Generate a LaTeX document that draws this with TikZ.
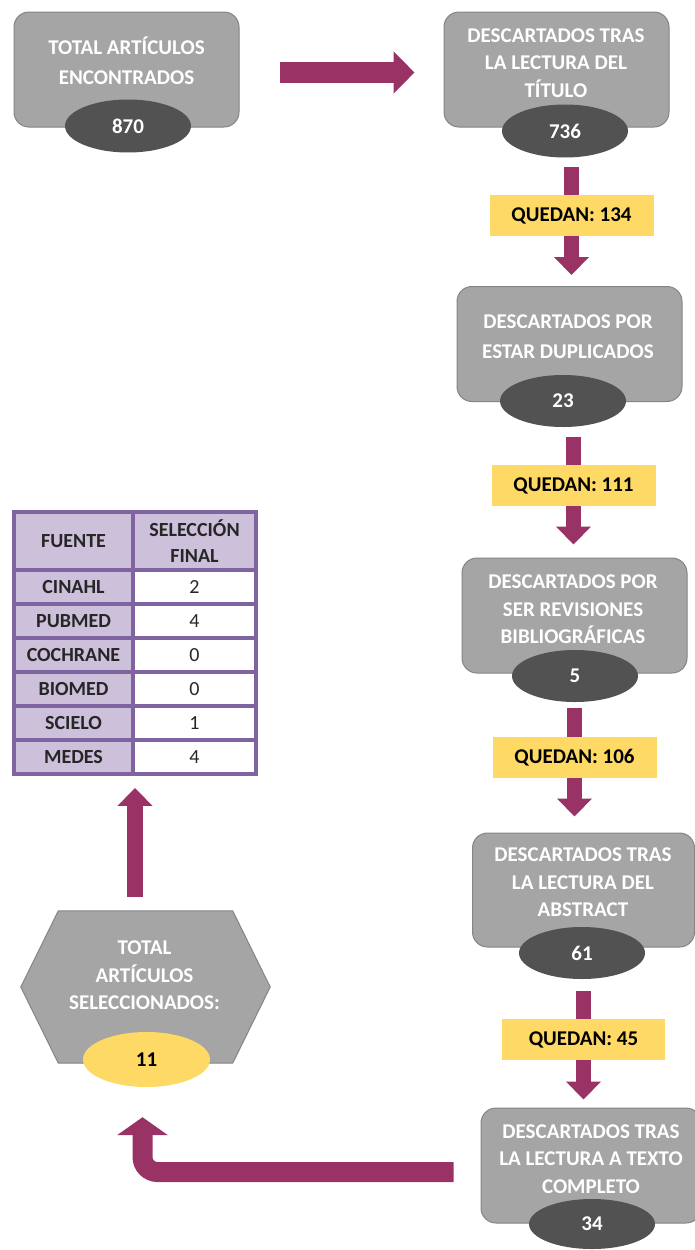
\documentclass[tikz,border=0pt]{standalone}
\usepackage{fontspec}
\setmainfont{Carlito}
\usetikzlibrary{arrows.meta,shapes.geometric,fit,backgrounds}
\definecolor{boxgray}{HTML}{A5A5A5}
\definecolor{boxline}{HTML}{858585}
\definecolor{ellgray}{HTML}{525252}
\definecolor{plum}{HTML}{993366}
\definecolor{gold}{HTML}{FFD966}
\definecolor{tpurple}{HTML}{8064A2}
\definecolor{tlilac}{HTML}{CCC0DA}
\definecolor{ttext}{HTML}{262626}
\begin{document}
\begin{tikzpicture}[x=1pt,y=-1pt,
  box/.style={draw=boxline, line width=1pt, fill=boxgray, rounded corners=15pt,
    minimum width=225pt, minimum height=115pt, inner sep=0pt},
  boxtext/.style={text=white, font=\fontsize{21}{27.5}\selectfont\bfseries, align=center, inner sep=0pt},
  boxtexttwo/.style={boxtext, font=\fontsize{21}{30}\selectfont\bfseries},
  countell/.style={ellipse, fill=ellgray, minimum width=126pt, minimum height=53pt, inner sep=0pt,
    text=white, font=\fontsize{21}{24}\selectfont\bfseries},
  remain/.style={rectangle, fill=gold, minimum width=164pt, minimum height=41pt, inner sep=0pt,
    text=black, font=\fontsize{21}{24}\selectfont\bfseries},
  varrow/.style={draw=plum, line width=15pt, line cap=butt, -{Triangle[width=34pt,length=18pt]}},
  harrow/.style={draw=plum, line width=21pt, line cap=butt, -{Triangle[width=41pt,length=21pt]}},
  uarrow/.style={draw=plum, line width=16pt, line cap=butt, -{Triangle[width=34pt,length=18pt]}},
  barrow/.style={draw=plum, line width=20pt, line cap=butt, rounded corners=15pt, -{Triangle[width=50pt,length=18pt]}},
  cell/.style={rectangle, draw=tpurple, line width=3.5pt, inner sep=0pt, text=ttext,
    font=\fontsize{20}{25}\selectfont\bfseries, align=center},
  srccell/.style={cell, fill=tlilac, minimum width=119pt, minimum height=34pt},
  numcell/.style={cell, fill=white, minimum width=123pt, minimum height=34pt, font=\fontsize{20}{25}\selectfont},
  hexfill/.style={draw=boxline, line width=1pt, fill=boxgray}
]
\useasboundingbox (0,0) rectangle (695,1250);

% boxes
\node[box] (bA) at (126.5,69.5) {};
\node[boxtexttwo] (tA) at (126.5,61) {TOTAL ARTÍCULOS\\ENCONTRADOS};
\node[countell] (e870) at (128,126) {870};

\node[box] (bB) at (556.5,69.5) {};
\node[boxtext] (tB) at (556,63) {DESCARTADOS TRAS\\LA LECTURA DEL\\TÍTULO};
\node[countell] (e736) at (565,131) {736};

\node[box] (bC) at (569.5,344) {};
\node[boxtexttwo] (tC) at (568,337) {DESCARTADOS POR\\ESTAR DUPLICADOS};
\node[countell, minimum height=52pt] (e23) at (563,401) {23};

\node[box] (bD) at (574.5,615.5) {};
\node[boxtext] (tD) at (573,609.5) {DESCARTADOS POR\\SER REVISIONES\\BIBLIOGRÁFICAS};
\node[countell, minimum height=52pt] (e5) at (575,676) {5};

\node[box, minimum width=222pt, minimum height=114pt] (bE) at (583.5,890) {};
\node[boxtext] (tE) at (583,882.5) {DESCARTADOS TRAS\\LA LECTURA DEL\\ABSTRACT};
\node[countell, minimum height=52pt] (e61) at (582,953) {61};

\node[box, minimum width=220pt] (bF) at (591,1165.5) {};
\node[boxtext] (tF) at (591,1159) {DESCARTADOS TRAS\\LA LECTURA A TEXTO\\COMPLETO};
\node[countell, minimum height=50pt] (e34) at (592,1224) {34};

% remaining labels
\node[remain] (q134) at (571.5,215.5) {QUEDAN: 134};
\node[remain] (q111) at (573.5,485.5) {QUEDAN: 111};
\node[remain] (q106) at (574.5,757.5) {QUEDAN: 106};
\node[remain, minimum width=163pt] (q45) at (583.5,1039.5) {QUEDAN: 45};

% hexagon
\node[minimum width=249pt, minimum height=152pt, inner sep=0pt] (hex) at (145.5,987) {};
\draw[hexfill] ([xshift=37.5pt]hex.north west) -- ([xshift=-37.5pt]hex.north east) -- (hex.east)
  -- ([xshift=-37.5pt]hex.south east) -- ([xshift=37.5pt]hex.south west) -- (hex.west) -- cycle;
\node[boxtext] (tH) at (144.5,975.5) {TOTAL\\ARTÍCULOS\\SELECCIONADOS:};
\node[countell, fill=gold, text=black, minimum width=127pt, minimum height=55pt] (e11) at (146.5,1059.5) {11};

% table
\node[cell, fill=tlilac, minimum width=119pt, minimum height=58pt] (h1) at (73.5,541) {FUENTE};
\node[cell, fill=tlilac, minimum width=123pt, minimum height=58pt, font=\fontsize{20}{26}\selectfont\bfseries] (h2) at (194.5,541) {SELECCIÓN\\FINAL};
\foreach \src/\num [count=\i] in {CINAHL/2, PUBMED/4, COCHRANE/0, BIOMED/0, SCIELO/1, MEDES/4}{
  \node[srccell] (s\i) at (73.5,553+34*\i) {\src};
  \node[numcell] (n\i) at (194.5,553+34*\i) {\num};
}
\node[fit=(h1)(h2)(s6)(n6), inner sep=0pt] (tbl) {};

% arrows (behind the labels)
\begin{pgfonlayer}{background}
\fill[white] (0,0) rectangle (695,1250);
\draw[harrow, shorten <=40pt, shorten >=29pt] ([yshift=-3pt]bA.east) -- ([yshift=-3pt]bB.west);
\draw[varrow, shorten <=9.5pt, shorten >=11pt] (q134 |- e736.south) -- (q134 |- bC.north);
\draw[varrow, shorten <=10pt, shorten >=13pt] (q111 |- e23.south) -- (q111 |- bD.north);
\draw[varrow, shorten <=6pt, shorten >=16pt] (q106 |- e5.south) -- (q106 |- bE.north);
\draw[varrow, shorten <=12pt, shorten >=8pt] (q45 |- e61.south) -- (q45 |- bF.north);
\draw[uarrow, shorten <=14pt, shorten >=12pt] (tbl.south |- hex.north) -- (tbl.south);
\draw[barrow] ([shift={(-27pt,-6.5pt)}]bF.west) -| ([shift={(-4pt,-30pt)}]e11.south);
\end{pgfonlayer}
\end{tikzpicture}
\end{document}
